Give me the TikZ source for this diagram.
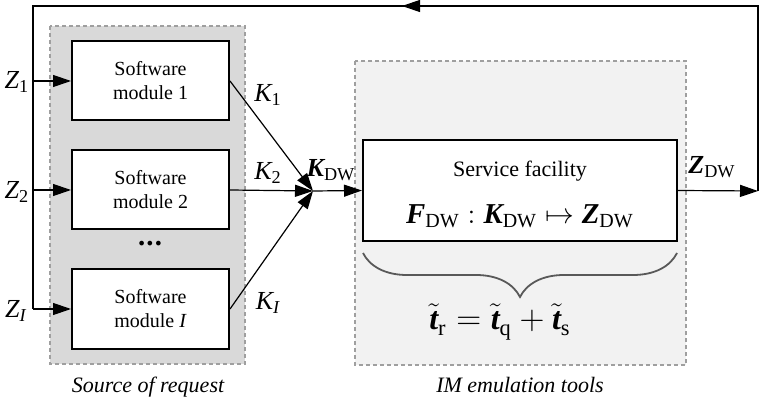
\documentclass[tikz,border=0pt]{standalone}
\usepackage{amsmath}
\usepackage{fontspec}
\setmainfont{Liberation Serif}
\usetikzlibrary{arrows.meta,decorations.pathreplacing}

\newcommand\bi[1]{\text{\bfseries\itshape #1}}

\tikzset{
  area/.style={draw=gray!75,dash pattern=on 2pt off 1.5pt,line width=0.6pt},
  module/.style={draw,line width=1pt,fill=white,minimum width=78.5pt,minimum height=39.5pt,
    align=center,font=\fontsize{10}{12}\selectfont},
  sig/.style={-{Triangle[length=9pt,width=6pt]},line width=0.6pt},
  lbl/.style={font=\fontsize{13}{15}\selectfont},
  caption/.style={font=\fontsize{11}{13}\selectfont\itshape}
}

\begin{document}
\begin{tikzpicture}[x=0.5pt,y=-0.5pt]
  \useasboundingbox (0,0) rectangle (759,400);

  \draw[area,fill=gray!30] (50,26) rectangle (245,364);
  \draw[area,fill=gray!10] (355,61) rectangle (686,365);

  \node[module] (m1) at (150.5,81)  {Software\\module 1};
  \node[module] (m2) at (150.5,190) {Software\\module 2};
  \node[module] (mI) at (150.5,309) {Software\\module \textit{I}};
  \node[font=\Large] (dots) at (150,244) {\textbf{.\kern0.6pt.\kern0.6pt.}};

  \node[draw,line width=1pt,fill=white,minimum width=157pt,minimum height=50.5pt] (sf) at (520,190.5) {};
  \node[font=\fontsize{11}{13}\selectfont] (sftext) at (520,171) {Service facility};
  \node[font=\Large] (map) at (520,216) {$\bi{F}_{\mathrm{DW}} : \bi{K}_{\mathrm{DW}} \mapsto \bi{Z}_{\mathrm{DW}}$};

  \coordinate (j)  at (313,191);
  \coordinate (out) at (758,191);
  \coordinate (tr) at (758,6);
  \coordinate (tl) at (33,6);
  \coordinate (fbtip) at (402,6);
  \coordinate (bl) at (363,253);
  \coordinate (br) at (677,253);

  % feedback loop
  \draw[sig] (sf.east) -- (out);
  \draw[line width=0.6pt] (out) -- (tr) -- (tl) -- (tl |- mI.west);
  \draw[sig] (tr) -- (fbtip);
  \draw[sig] (tl |- m1.west) -- (m1.west);
  \draw[sig] (tl |- m2.west) -- (m2.west);
  \draw[sig] (tl |- mI.west) -- (mI.west);

  \draw[sig] (m1.east) -- (j);
  \draw[sig] (m2.east) -- (j);
  \draw[sig] (mI.east) -- (j);
  \draw[sig] (j) -- (sf.west);

  \draw[decorate,decoration={brace,mirror,amplitude=22pt},line width=0.9pt,gray!70!black] (bl) -- (br);

  \node[lbl] (z1) at (17,82)  {$\mathit{Z}_{\mathrm{1}}$};
  \node[lbl] (z2) at (17,192) {$\mathit{Z}_{\mathrm{2}}$};
  \node[lbl] (zI) at (16,311) {$\mathit{Z}_{\mathit{I}}$};
  \node[lbl] (k1) at (268,95)  {$\mathit{K}_{\mathrm{1}}$};
  \node[lbl] (k2) at (268,173) {$\mathit{K}_{\mathrm{2}}$};
  \node[lbl] (kI) at (268,303) {$\mathit{K}_{\mathit{I}}$};
  \node[lbl] (kdw) at (331,170) {$\bi{K}_{\mathrm{DW}}$};
  \node[lbl] (zdw) at (712,167) {$\bi{Z}_{\mathrm{DW}}$};

  \node[font=\fontsize{16}{18}\selectfont] (times) at (500,322) {$\tilde{\bi{t}}_{\mathrm{r}} = \tilde{\bi{t}}_{\mathrm{q}} + \tilde{\bi{t}}_{\mathrm{s}}$};

  \node[caption] (src) at (148,387) {Source of request};
  \node[caption] (emu) at (520,385) {IM emulation tools};
\end{tikzpicture}
\end{document}
